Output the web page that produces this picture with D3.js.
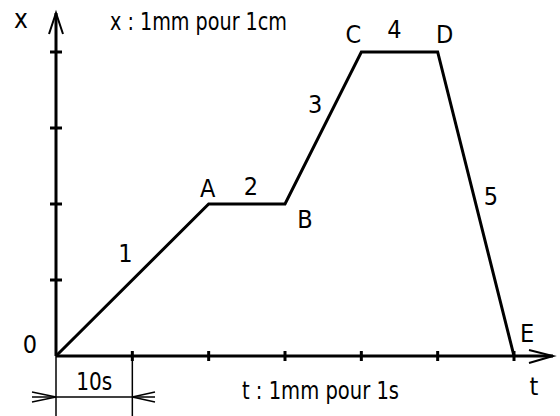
<!DOCTYPE html>
<html>
<head>
<meta charset="utf-8">
<script src="https://cdn.jsdelivr.net/npm/d3@7"></script>
<style>
  body { margin: 0; background: #fff; }
  text { font-family: "DejaVu Sans", sans-serif; font-stretch: condensed; fill: #000; }
</style>
</head>
<body>
<div id="chart"></div>
<script>
// data: time (s) and position (graduations)
var times = [0, 20, 30, 40, 50, 60];
var positions = [0, 2, 2, 4, 4, 0];
var pointNames = ["0", "A", "B", "C", "D", "E"];
var segmentNames = ["1", "2", "3", "4", "5"];
var tTicks = [10, 20, 30, 40, 50, 60];
var xTicks = [1, 2, 3, 4];

var width = 560, height = 416;

var svg = d3.select("#chart")
    .append("svg")
    .attr("width", width)
    .attr("height", height);

var x = d3.scaleLinear().domain([0, 60]).range([56, 514]);
var y = d3.scaleLinear().domain([0, 4]).range([356, 52]);

var x0 = x(0), y0 = y(0);

// axes
svg.append("line")
    .attr("x1", x0).attr("y1", y0).attr("x2", 553).attr("y2", y0)
    .attr("stroke", "black").attr("stroke-width", 3);
svg.append("line")
    .attr("x1", x0).attr("y1", y0).attr("x2", x0).attr("y2", 13)
    .attr("stroke", "black").attr("stroke-width", 3);

// arrow heads (open)
svg.append("path")
    .attr("d", "M" + (x0 - 7) + ",34 L" + x0 + ",13 L" + (x0 + 7) + ",34")
    .attr("fill", "none").attr("stroke", "black").attr("stroke-width", 2);
svg.append("path")
    .attr("d", "M529," + (y0 - 6) + " L553," + y0 + " L529," + (y0 + 7))
    .attr("fill", "none").attr("stroke", "black").attr("stroke-width", 2);

// ticks
svg.selectAll(".ttick")
    .data(tTicks)
    .enter()
    .append("line")
    .attr("x1", function (d) { return x(d); })
    .attr("x2", function (d) { return x(d); })
    .attr("y1", y0 - 5).attr("y2", y0 + 5)
    .attr("stroke", "black").attr("stroke-width", 3);

svg.selectAll(".xtick")
    .data(xTicks)
    .enter()
    .append("line")
    .attr("x1", x0 - 6).attr("x2", x0 + 6)
    .attr("y1", function (d) { return y(d); })
    .attr("y2", function (d) { return y(d); })
    .attr("stroke", "black").attr("stroke-width", 3);

// the curve x(t)
var line = d3.line()
    .x(function (d, i) { return x(times[i]); })
    .y(function (d, i) { return y(positions[i]); });

svg.append("path")
    .datum(positions)
    .attr("d", line)
    .attr("fill", "none")
    .attr("stroke", "black")
    .attr("stroke-width", 3)
    .attr("stroke-linejoin", "miter");

// point labels
var pointNudge = [[-26, -3], [-1, -7], [20, 24], [-8, -9], [7, -9], [13, -14]];
svg.selectAll(".pname")
    .data(pointNames)
    .enter()
    .append("text")
    .attr("x", function (d, i) { return x(times[i]) + pointNudge[i][0]; })
    .attr("y", function (d, i) { return y(positions[i]) + pointNudge[i][1]; })
    .attr("text-anchor", "middle")
    .attr("font-size", 25)
    .text(function (d) { return d; });

// segment labels
var segNudge = [[-7, -18], [4, -9], [-8, -15], [-5, -14], [15, 1]];
svg.selectAll(".sname")
    .data(segmentNames)
    .enter()
    .append("text")
    .attr("x", function (d, i) { return (x(times[i]) + x(times[i + 1])) / 2 + segNudge[i][0]; })
    .attr("y", function (d, i) { return (y(positions[i]) + y(positions[i + 1])) / 2 + segNudge[i][1]; })
    .attr("text-anchor", "middle")
    .attr("font-size", 25)
    .text(function (d) { return d; });

// axis names and scales
svg.append("text").attr("x", 21).attr("y", 28).attr("text-anchor", "middle")
    .attr("font-size", 26).text("x");
svg.append("text").attr("x", 534).attr("y", 395).attr("text-anchor", "middle")
    .attr("font-size", 25).text("t");
svg.append("text").attr("x", 110).attr("y", 30)
    .attr("font-size", 25).attr("textLength", 177).attr("lengthAdjust", "spacingAndGlyphs")
    .text("x : 1mm pour 1cm");
svg.append("text").attr("x", 242).attr("y", 399)
    .attr("font-size", 25).attr("textLength", 157).attr("lengthAdjust", "spacingAndGlyphs")
    .text("t : 1mm pour 1s");

// dimension 10s
var dy = 397;
svg.append("line").attr("x1", x0).attr("x2", x0).attr("y1", y0).attr("y2", height)
    .attr("stroke", "black").attr("stroke-width", 1.5);
svg.append("line").attr("x1", x(10)).attr("x2", x(10)).attr("y1", y0).attr("y2", height)
    .attr("stroke", "black").attr("stroke-width", 1.5);
svg.append("line").attr("x1", 32).attr("x2", 155).attr("y1", dy).attr("y2", dy)
    .attr("stroke", "black").attr("stroke-width", 1.5);
svg.append("path")
    .attr("d", "M32," + (dy - 5) + " L" + x0 + "," + dy + " L32," + (dy + 5))
    .attr("fill", "none").attr("stroke", "black").attr("stroke-width", 1.5);
svg.append("path")
    .attr("d", "M155," + (dy - 5) + " L" + x(10) + "," + dy + " L155," + (dy + 5))
    .attr("fill", "none").attr("stroke", "black").attr("stroke-width", 1.5);
svg.append("text").attr("x", (x0 + x(10)) / 2).attr("y", 390).attr("text-anchor", "middle")
    .attr("font-size", 25).attr("textLength", 36).attr("lengthAdjust", "spacingAndGlyphs")
    .text("10s");
</script>
</body>
</html>
